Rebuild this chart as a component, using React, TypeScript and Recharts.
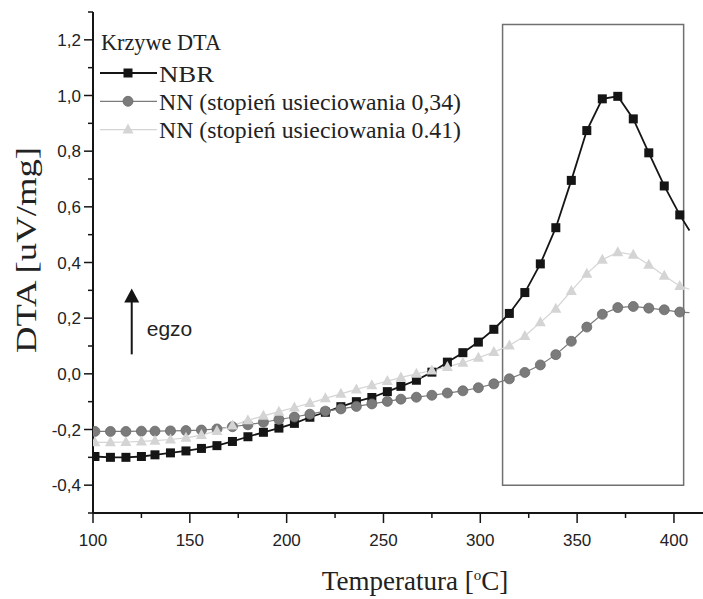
import React from 'react';
import { LineChart, Line, XAxis, YAxis, ReferenceArea, ReferenceLine } from 'recharts';

// temperature of each measured point [°C]
const TEMP = [101, 109, 117, 125, 132, 140, 148, 156, 164, 172, 180, 188, 196, 204, 212, 220, 228, 236, 244, 252,
  259, 267, 275, 283, 291, 299, 307, 315, 323, 331, 339, 347, 355, 363, 371, 379, 387, 395, 403, 408];

const NBR = [-0.297, -0.3, -0.3, -0.297, -0.291, -0.284, -0.277, -0.268, -0.258, -0.243, -0.226, -0.21, -0.195, -0.178,
  -0.156, -0.138, -0.118, -0.1, -0.085, -0.064, -0.045, -0.023, 0.006, 0.042, 0.076, 0.114, 0.16, 0.217, 0.292, 0.395,
  0.525, 0.695, 0.874, 0.988, 0.997, 0.916, 0.794, 0.675, 0.571, 0.515];

const NN_034 = [-0.207, -0.207, -0.207, -0.206, -0.206, -0.205, -0.204, -0.202, -0.198, -0.19, -0.183, -0.174, -0.164,
  -0.155, -0.145, -0.134, -0.126, -0.117, -0.108, -0.099, -0.091, -0.084, -0.077, -0.069, -0.061, -0.05, -0.036, -0.018,
  0.005, 0.032, 0.069, 0.117, 0.168, 0.214, 0.238, 0.242, 0.236, 0.23, 0.222, 0.22];

const NN_041 = [-0.246, -0.246, -0.245, -0.243, -0.24, -0.236, -0.23, -0.22, -0.205, -0.186, -0.167, -0.151, -0.136,
  -0.121, -0.105, -0.088, -0.072, -0.056, -0.041, -0.026, -0.013, 0, 0.012, 0.025, 0.04, 0.058, 0.078, 0.102, 0.136,
  0.185, 0.234, 0.298, 0.36, 0.41, 0.437, 0.428, 0.392, 0.352, 0.316, 0.304];

const X_TICKS = [100, 125, 150, 175, 200, 225, 250, 275, 300, 325, 350, 375, 400];
const Y_TICKS = [-0.5, -0.4, -0.3, -0.2, -0.1, 0, 0.1, 0.2, 0.3, 0.4, 0.5, 0.6, 0.7, 0.8, 0.9, 1.0, 1.1, 1.2, 1.3];

const LEGEND_TITLE = 'Krzywe DTA';
const NAMES = ['NBR', 'NN (stopień usieciowania 0,34)', 'NN (stopień usieciowania 0.41)'];
const NAME_WIDTHS = [55, 302, 302];

const rows = TEMP.map((t, i) => ({ T: t, nbr: NBR[i], nn34: NN_034[i], nn41: NN_041[i] }));
const LAST = TEMP.length - 1;

const SANS = "'Liberation Sans', Arial, sans-serif";
const SERIF = "'Liberation Serif', 'Times New Roman', serif";
const INK = '#151515';
const GRAY = '#7b7b7b';
const LIGHT = '#d4d4d4';

const square = (cx: number, cy: number, key?: string) => (
  <rect key={key} x={cx - 4.5} y={cy - 4.5} width={9} height={9} fill={INK} />
);
const circle = (cx: number, cy: number, key?: string) => (
  <circle key={key} cx={cx} cy={cy} r={5} fill={GRAY} stroke="#6a6a6a" strokeWidth={0.8} />
);
const triangle = (cx: number, cy: number, key?: string) => (
  <polygon key={key} points={`${cx},${cy - 6} ${cx - 5.5},${cy + 4} ${cx + 5.5},${cy + 4}`} fill={LIGHT} />
);

// the curves run on a bit past the last marker
const dotFor = (draw: typeof square, tag: string) => (p: any) =>
  p.index === LAST || p.cx == null ? <g key={`${tag}-${p.index}`} /> : draw(p.cx, p.cy, `${tag}-${p.index}`);

const XTick = ({ x, y, payload }: any) => {
  const major = payload.value % 50 === 0;
  return (
    <g>
      <line x1={x} x2={x} y1={y} y2={y + (major ? 10 : 5)} stroke={INK} strokeWidth={1.5} />
      {major && (
        <text x={x} y={y + 33} textAnchor="middle" fontSize={17} fontFamily={SANS} fill="#222">
          {payload.value}
        </text>
      )}
    </g>
  );
};

const YTick = ({ x, y, payload }: any) => {
  const major = Math.round(payload.value * 10) % 2 === 0;
  return (
    <g>
      <line x1={x - (major ? 9 : 5)} x2={x} y1={y} y2={y} stroke={INK} strokeWidth={1.5} />
      {major && (
        <text x={x - 12} y={y} dy={6} textAnchor="end" fontSize={17} fontFamily={SANS} fill="#222">
          {payload.value.toFixed(1).replace('.', ',')}
        </text>
      )}
    </g>
  );
};

const arrow = (p: any) => (
  <g>
    <line x1={p.x1} y1={p.y1} x2={p.x2} y2={p.y2 + 12} stroke={INK} strokeWidth={2} />
    <polygon points={`${p.x2},${p.y2} ${p.x2 - 7.5},${p.y2 + 14} ${p.x2 + 7.5},${p.y2 + 14}`} fill={INK} />
    <text x={p.x2 + 15} y={p.y1 - 18} fontSize={21} fontFamily={SANS} fill="#222">egzo</text>
  </g>
);

const markers = [square, circle, triangle];
const strokes = [INK, GRAY, LIGHT];

export default function App() {
  return (
    <div style={{ position: 'fixed', left: 0, top: 0, width: 703, height: 599, background: '#fff', overflow: 'hidden' }}>
      <LineChart width={703} height={599} data={rows} margin={{ top: 12, right: 0, bottom: 0, left: 0 }}>
        <XAxis
          type="number"
          dataKey="T"
          domain={[100, 415]}
          ticks={X_TICKS}
          interval={0}
          height={86}
          tickSize={0}
          tickMargin={0}
          tickLine={false}
          tick={(p: any) => <XTick {...p} />}
          axisLine={{ stroke: INK, strokeWidth: 2 }}
          allowDataOverflow
        />
        <YAxis
          type="number"
          domain={[-0.5, 1.3]}
          ticks={Y_TICKS}
          interval={0}
          width={93}
          tickSize={0}
          tickMargin={0}
          tickLine={false}
          tick={(p: any) => <YTick {...p} />}
          axisLine={{ stroke: INK, strokeWidth: 2 }}
          allowDataOverflow
        />
        <ReferenceArea x1={311.5} x2={405} y1={-0.4} y2={1.255} fill="none" stroke="#707070" strokeWidth={1.5} />
        <Line type="linear" dataKey="nbr" stroke={INK} strokeWidth={1.8} dot={dotFor(square, 'nbr')} isAnimationActive={false} />
        <Line type="linear" dataKey="nn34" stroke={GRAY} strokeWidth={1.2} dot={dotFor(circle, 'nn34')} isAnimationActive={false} />
        <Line type="linear" dataKey="nn41" stroke={LIGHT} strokeWidth={1.2} dot={dotFor(triangle, 'nn41')} isAnimationActive={false} />
        <ReferenceLine segment={[{ x: 120, y: 0.07 }, { x: 120, y: 0.307 }]} shape={arrow} />
      </LineChart>

      <svg width={703} height={599} style={{ position: 'absolute', left: 0, top: 0, pointerEvents: 'none' }}>
        <text x={101} y={50} fontSize={22.5} fontFamily={SERIF} fill="#222" textLength={120} lengthAdjust="spacingAndGlyphs">
          {LEGEND_TITLE}
        </text>
        {NAMES.map((name, i) => {
          const ly = 73 + i * 28.3;
          return (
            <g key={name}>
              <line x1={100} x2={157} y1={ly} y2={ly} stroke={strokes[i]} strokeWidth={i === 0 ? 1.8 : 1.2} />
              {markers[i](128, ly)}
              <text
                x={159}
                y={ly + 8.5}
                fontSize={23}
                fontFamily={SERIF}
                fill="#222"
                textLength={NAME_WIDTHS[i]}
                lengthAdjust="spacingAndGlyphs"
              >
                {name}
              </text>
            </g>
          );
        })}
        <text x={415} y={590} textAnchor="middle" fontSize={27} fontFamily={SERIF} fill="#222">
          Temperatura [<tspan dy={-10} fontSize={15}>o</tspan><tspan dy={10}>C]</tspan>
        </text>
        <text
          x={36}
          y={250}
          transform="rotate(-90, 36, 250)"
          textAnchor="middle"
          fontSize={30}
          fontFamily={SERIF}
          fill="#222"
          textLength={206}
          lengthAdjust="spacingAndGlyphs"
        >
          DTA [uV/mg]
        </text>
      </svg>
    </div>
  );
}
